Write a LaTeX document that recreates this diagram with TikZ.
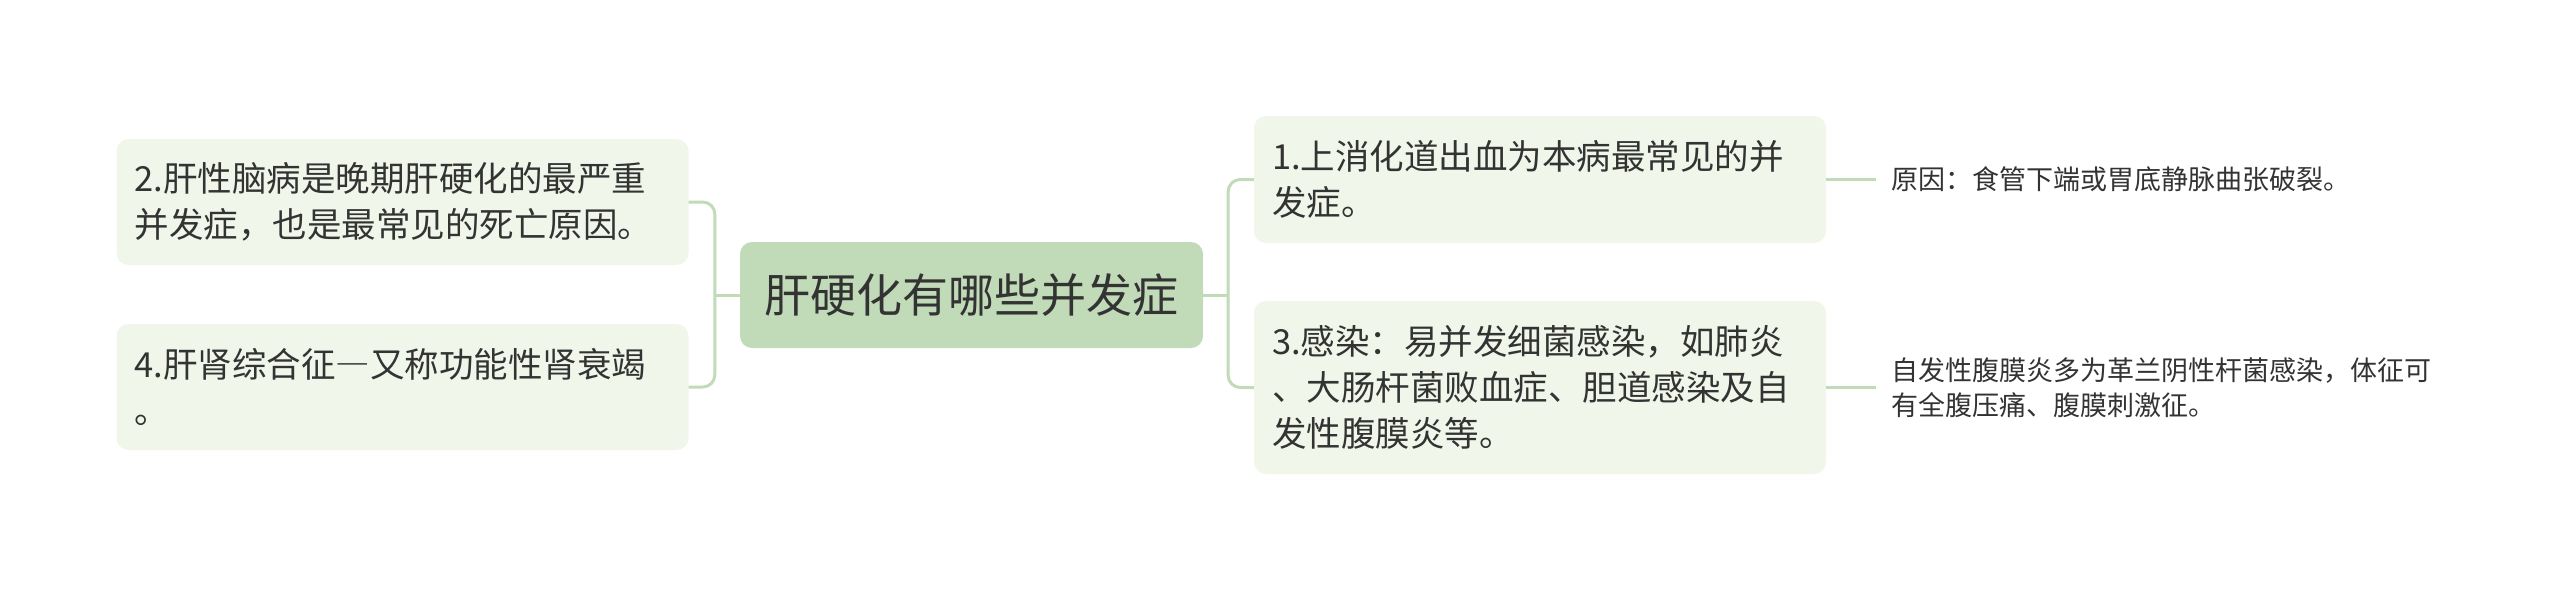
\documentclass[tikz,border=0pt]{standalone}
\usepackage{fontspec}
\setmainfont{Noto Sans CJK SC}
\usetikzlibrary{positioning}

\definecolor{rootfill}{HTML}{C1DBB9}
\definecolor{boxfill}{HTML}{F0F6E9}
\definecolor{linkcol}{HTML}{C1DBB9}
\definecolor{textcol}{HTML}{333333}

\newcommand{\fwdash}{{\addfontfeature{RawFeature=+fwid}—}}

\tikzset{
  topic/.style={fill=rootfill, rounded corners=12pt, text=textcol, minimum width=463pt, minimum height=106pt, inner sep=0pt, font=\fontsize{46pt}{56pt}\selectfont},
  sub/.style={fill=boxfill, rounded corners=12pt, text=textcol, text width=536pt, align=left, inner xsep=18pt, inner ysep=0pt, font=\fontsize{34.5pt}{46pt}\selectfont},
  note/.style={text=textcol, align=left, inner xsep=15pt, inner ysep=0pt, font=\fontsize{27pt}{35pt}\selectfont},
  link/.style={draw=linkcol, line width=3pt, rounded corners=12pt}
}

\begin{document}
\begin{tikzpicture}[x=1pt, y=-1pt]
	% Fix the page size
	\useasboundingbox (0,0) rectangle (2560,590);
	
	% Draw the central topic
	\node[topic] (root) at (971.5,295) {肝硬化有哪些并发症};
	
	% Draw the branches on the left
	\node[sub, minimum height=126pt] (b2) at (402.5,202) {2.肝性脑病是晚期肝硬化的最严重\\并发症，也是最常见的死亡原因。};
	\node[sub, minimum height=126pt] (b4) at (402.5,387) {4.肝肾综合征\fwdash 又称功能性肾衰竭\\。};
	
	% Draw the branches on the right
	\node[sub, minimum height=127pt] (b1) at (1540,179.5) {1.上消化道出血为本病最常见的并\\发症。};
	\node[sub, minimum height=173pt] (b3) at (1540,387.5) {3.感染：易并发细菌感染，如肺炎\\、大肠杆菌败血症、胆道感染及自\\发性腹膜炎等。};
	
	% Draw the notes
	\node[note, right=50pt of b1] (n1) {原因：食管下端或胃底静脉曲张破裂。};
	\node[note, right=50pt of b3] (n3) {自发性腹膜炎多为革兰阴性杆菌感染，体征可\\有全腹压痛、腹膜刺激征。};
	
	% Draw the connectors
	\coordinate (jl) at ([xshift=-25pt]root.west);
	\coordinate (jr) at ([xshift=25pt]root.east);
	\draw[link] (root.west) -- (jl);
	\draw[link] (b2.east) -| (jl);
	\draw[link] (b4.east) -| (jl);
	\draw[link] (root.east) -- (jr);
	\draw[link] (b1.west) -| (jr);
	\draw[link] (b3.west) -| (jr);
	\draw[link] (b1.east) -- (n1.west);
	\draw[link] (b3.east) -- (n3.west);
\end{tikzpicture}
\end{document}
